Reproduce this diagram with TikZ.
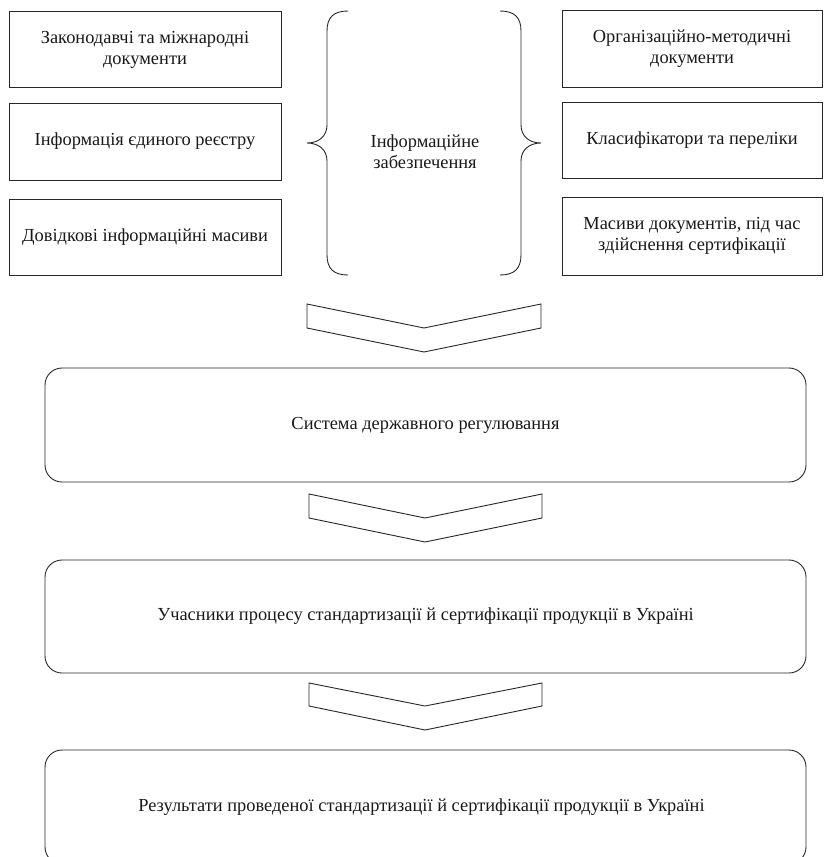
\documentclass[tikz,border=0pt]{standalone}
\usepackage{fontspec}
\setmainfont{Liberation Serif}
\begin{document}
\begin{tikzpicture}[x=1pt,y=-1pt,
  line/.style={draw=black!85,line width=0.9pt},
  txt/.style={font=\fontsize{18.4}{21}\selectfont,align=center,text=black!90},
  sbox/.style={line,txt,rectangle,inner sep=0pt,outer sep=0pt},
  rbox/.style={line,txt,rectangle,rounded corners=17pt,inner sep=0pt,outer sep=0pt,minimum width=761pt},
  chev/.style={line,fill=white,line join=miter}
]
\useasboundingbox (0,0) rectangle (824,857);
% left boxes
\node[sbox,minimum width=272pt,minimum height=76pt] (l1) at (145,49.5) {Законодавчі та міжнародні\\документи};
\node[sbox,minimum width=272pt,minimum height=77pt] (l2) at (145,141.5) {Інформація єдиного реєстру};
\node[sbox,minimum width=272pt,minimum height=76pt] (l3) at (145,237) {Довідкові інформаційні масиви};
% right boxes
\node[sbox,minimum width=260pt,minimum height=77pt] (r1) at (692,48.5) {Організаційно-методичні\\документи};
\node[sbox,minimum width=260pt,minimum height=76pt] (r2) at (692,140) {Класифікатори та переліки};
\node[sbox,minimum width=260pt,minimum height=78pt] (r3) at (692,236) {Масиви документів, під час\\здійснення сертифікації};
% centre text and braces
\node[txt] (info) at (425,152) {Інформаційне\\забезпечення};
\draw[line] (348,11) .. controls (334,11) and (327,17) .. (327,31) -- (327,125)
  .. controls (327,136) and (319,143) .. (307,143)
  .. controls (319,143) and (327,150) .. (327,161) -- (327,255)
  .. controls (327,269) and (334,275) .. (348,275);
\draw[line] (500,11) .. controls (514,11) and (521,17) .. (521,31) -- (521,125)
  .. controls (521,136) and (529,143) .. (541,143)
  .. controls (529,143) and (521,150) .. (521,161) -- (521,255)
  .. controls (521,269) and (514,275) .. (500,275);
% main boxes
\node[rbox,minimum height=114pt] (s1) at (425.5,425) {Система державного регулювання};
\node[rbox,minimum height=113pt] (s2) at (425.5,616.5) {Учасники процесу стандартизації й сертифікації продукції в Україні};
\node[rbox,minimum height=114pt] (s3) at (425.5,807) {\hspace*{-8pt}Результати проведеної стандартизації й сертифікації продукції в Україні};
% chevrons
\draw[chev] (307,304) -- (424,328) -- (541,304) -- (541,328) -- (424,352) -- (307,328) -- cycle;
\draw[chev] (309,494) -- (425,518) -- (542,494) -- (542,518) -- (425,542) -- (309,518) -- cycle;
\draw[chev] (309,683) -- (425,706) -- (542,683) -- (542,706) -- (425,730) -- (309,706) -- cycle;
\end{tikzpicture}
\end{document}
